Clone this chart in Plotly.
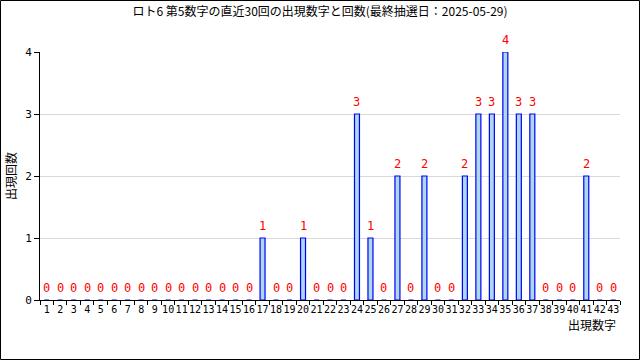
import plotly.graph_objects as go

numbers = list(range(1, 44))
counts_map = {17: 1, 20: 1, 24: 3, 25: 1, 27: 2, 29: 2, 32: 2, 33: 3, 34: 3,
              35: 4, 36: 3, 37: 3, 41: 2}
counts = [counts_map.get(n, 0) for n in numbers]
categories = [str(n) for n in numbers]
title = "ロト6 第5数字の直近30回の出現数字と回数(最終抽選日：2025-05-29)"

FONT = "Noto Sans CJK JP, DejaVu Sans Mono, monospace"
W, H = 640, 360
L, R, T, B = 40, 20, 52, 60
pw, ph = W - L - R, H - T - B

fig = go.Figure(go.Bar(
    x=categories, y=counts,
    width=0.37,
    marker=dict(color="#add8e6", line=dict(color="#0000ff", width=1.2)),
    hoverinfo="x+y",
))

annotations = [
    dict(x=i, y=v, xref="x", yref="y", text=str(v), showarrow=False,
         xanchor="center", yanchor="bottom", yshift=3,
         font=dict(color="red", size=12, family="DejaVu Sans Mono"))
    for i, v in enumerate(counts)
]
annotations += [
    dict(text="出現数字", xref="paper", yref="paper", x=1.0 - 2 / pw, y=-24 / ph,
         xanchor="right", yanchor="middle", showarrow=False,
         font=dict(size=12, family=FONT)),
    dict(text="出現回数", xref="paper", yref="paper", x=-30 / pw, y=0.5,
         xanchor="center", yanchor="middle", showarrow=False, textangle=-90,
         font=dict(size=12, family=FONT)),
]

fig.update_layout(
    width=W, height=H,
    margin=dict(l=L, r=R, t=T, b=B),
    paper_bgcolor="white", plot_bgcolor="white",
    font=dict(family=FONT, size=12, color="black"),
    showlegend=False,
    title=dict(text=title, x=0.5, xanchor="center", y=1 - 12 / H, yanchor="middle",
               font=dict(size=12, family=FONT)),
    xaxis=dict(type="category", tickson="boundaries", ticks="outside", ticklen=4,
               tickcolor="black", showline=True, linecolor="black", linewidth=1,
               showgrid=False, tickangle=0, tickfont=dict(size=10, family="DejaVu Sans Mono"),
               range=[-0.5, 42.5], fixedrange=True),
    yaxis=dict(range=[0, 4], tickvals=[0, 1, 2, 3, 4], ticks="outside", ticklen=5,
               tickcolor="black", showline=True, linecolor="black", linewidth=1,
               showgrid=True, gridcolor="#d9d9d9", zeroline=False,
               tickfont=dict(size=11, family="DejaVu Sans Mono")),
    annotations=annotations,
    shapes=[dict(type="rect", xref="paper", yref="paper",
                 x0=(-L + 0.5) / pw, x1=(W - L - 0.5) / pw,
                 y0=-(B - 0.5) / ph, y1=(ph + T - 0.5) / ph,
                 line=dict(color="black", width=1))],
)

fig.write_html("out.html")
